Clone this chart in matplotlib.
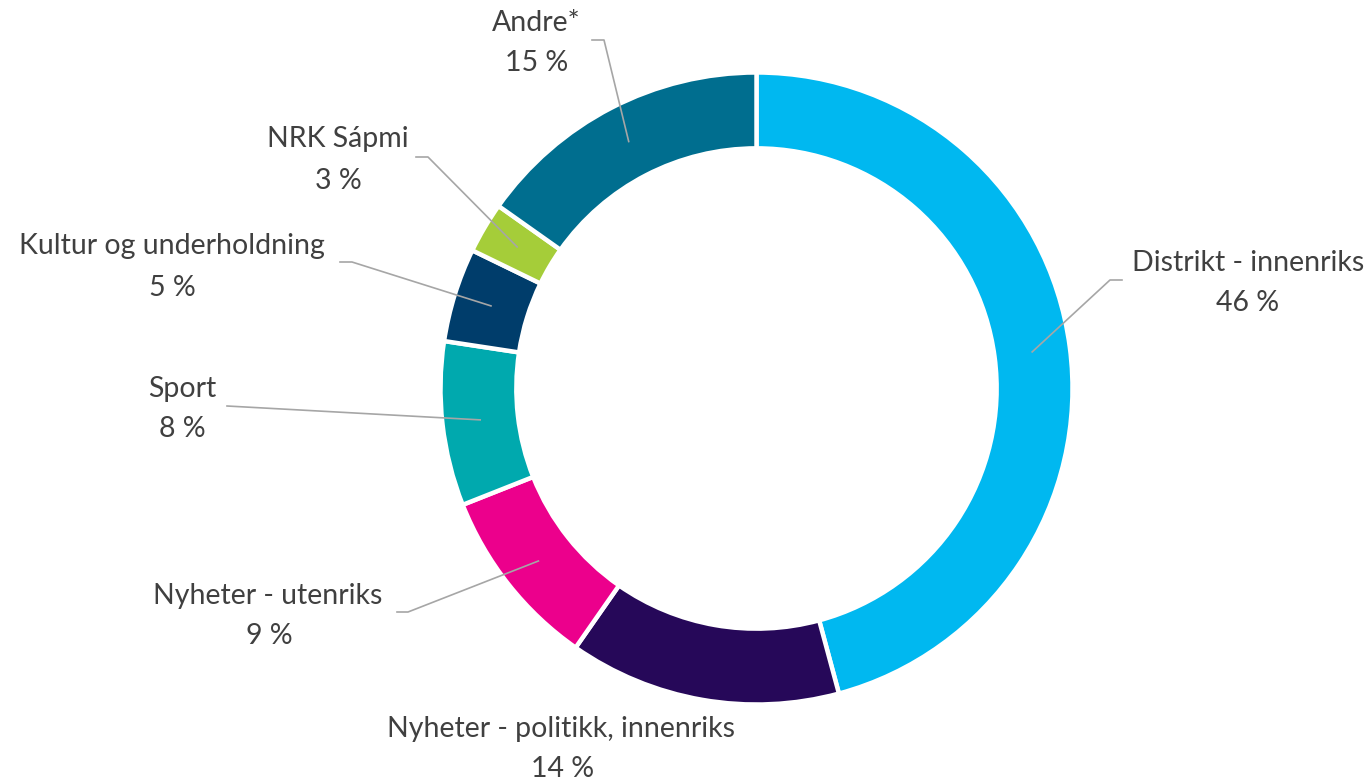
import numpy as np
import matplotlib
matplotlib.use("Agg")
from matplotlib import pyplot

# slice data, clockwise from 12 o'clock
categories = ["Distrikt - innenriks", "Nyheter - politikk, innenriks", "Nyheter - utenriks",
              "Sport", "Kultur og underholdning", "NRK Sápmi", "Andre*"]
shares = [45.8, 13.9, 9.3, 8.4, 4.8, 2.6, 15.2]
colors = ["#00B8F0", "#260859", "#EC008C", "#00A9AE", "#003D6B", "#A5CD39", "#006E8F"]

# label layout in pixels: name centre, percent centre, leader start/elbow (None = no leader)
name_pos = [(1248, 263), (561, 729), (268, 596), (182, 389), (172, 246), (338, 139), (536, 23)]
pct_pos = [(1248, 303), (563, 769), (269, 636), (182, 429), (172, 288), (338, 181), (537, 63)]
leader_start = [(1122, 280), None, (397, 612), (227, 406), (340, 262), (416, 157), (592, 40)]
leader_elbow = [(1110, 280), None, (408, 612), (227, 406), (352, 262), (428, 157), (604, 40)]

W, H = 1372, 780
CX, CY, R = 756.5, 388.5, 316.0
RING = 0.24
TEXT_COLOR = "#404040"
LINE_COLOR = "#A6A6A6"
FONT_SIZE = 20.5


def px(p):
    """pixel position -> data coords (1 unit = outer radius)"""
    return (p[0] - CX) / R, (CY - p[1]) / R


fig = pyplot.figure(figsize=(W / 100, H / 100), dpi=100)
ax = fig.add_axes([0, 0, 1, 1])

wedges, _ = ax.pie(shares, colors=colors, startangle=90, counterclock=False, radius=1.0,
                   wedgeprops=dict(width=RING, edgecolor="white", linewidth=3.2))

# pie() resets the limits, so set them afterwards
ax.set_xlim(-CX / R, (W - CX) / R)
ax.set_ylim(-(H - CY) / R, CY / R)
ax.set_aspect("equal")
ax.axis("off")

mid_r = 1.0 - RING / 2
for i, w in enumerate(wedges):
    pct = "%d %%" % round(shares[i])
    x, y = px(name_pos[i])
    ax.text(x, y, categories[i], ha="center", va="center", fontsize=FONT_SIZE, family="Lato",
            color=TEXT_COLOR)
    x, y = px(pct_pos[i])
    ax.text(x, y, pct, ha="center", va="center", fontsize=FONT_SIZE, family="Lato",
            color=TEXT_COLOR)

    if leader_start[i] is None:
        continue
    ang = np.deg2rad((w.theta1 + w.theta2) / 2)
    ex, ey = mid_r * np.cos(ang), mid_r * np.sin(ang)
    sx, sy = px(leader_start[i])
    bx, by = px(leader_elbow[i])
    ax.plot([sx, bx, ex], [sy, by, ey], color=LINE_COLOR, linewidth=1.2, zorder=5)

pyplot.savefig("out.png", dpi=100)
